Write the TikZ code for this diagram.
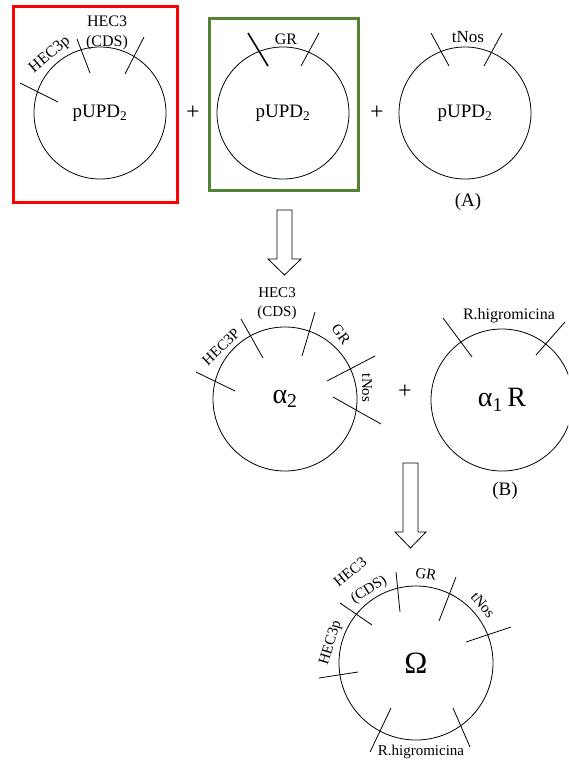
\documentclass[tikz,border=0pt]{standalone}
\usepackage{fontspec}
\setmainfont{Liberation Serif}
\begin{document}
\begin{tikzpicture}[x=1pt,y=-1pt,
  plasmid/.style={draw, circle, inner sep=0pt, line width=0.8pt},
  site/.style={line width=0.8pt},
  lbl/.style={inner sep=0pt, align=center, font=\fontsize{16}{20}\selectfont},
  lblm/.style={inner sep=0pt, align=center, font=\fontsize{15}{19}\selectfont},
  vecname/.style={inner sep=0pt, font=\fontsize{19}{22}\selectfont},
  greek/.style={inner sep=0pt, font=\fontsize{28}{30}\selectfont},
  plussign/.style={inner sep=0pt, font=\fontsize{24}{24}\selectfont},
  caption/.style={inner sep=0pt, font=\fontsize{19}{22}\selectfont},
  blockarrow/.style={draw, line width=0.8pt, fill=white},
  boxframe/.style={line width=3pt}
]
\clip (0,0) rectangle (568,760);
\definecolor{framegreen}{RGB}{84,130,53}

% ---- row 1: three pUPD2 vectors ----
\draw[boxframe, red] (13,7) rectangle (177,202);
\draw[boxframe, framegreen] (209,19) rectangle (358,190);

\node[plasmid, minimum size=132pt] (p1) at (100,113) {};
\node[vecname] at (p1) {pUPD\textsubscript{2}};
\draw[site] (20,83) -- (58,102);
\draw[site] (77,39) -- (90,73);
\draw[site] (144,37) -- (125,74);
\node[lbl, rotate=40] at (50,55) {HEC3p};
\node[lbl] at (107,33) {HEC3\\(CDS)};

\node[plussign] at (193,113) {+};

\node[plasmid, minimum size=132pt] (p2) at (283,113) {};
\node[vecname] at (p2) {pUPD\textsubscript{2}};
\draw[site, line width=1.6pt] (248,33) -- (268,66);
\draw[site] (319,33) -- (301,66);
\node[lbl] at (286,39) {GR};

\node[plussign] at (377,113) {+};

\node[plasmid, minimum size=132pt] (p3) at (465,113) {};
\node[vecname] at (p3) {pUPD\textsubscript{2}};
\draw[site] (431,33) -- (449,66);
\draw[site] (502,33) -- (484,66);
\node[lbl, font=\fontsize{17}{20}\selectfont] at (468,37) {tNos};
\node[caption] at (468,202) {(A)};

% ---- arrow to row 2 ----
\draw[blockarrow] (277,210) -- (292,210) -- (292,259) -- (301,259)
  -- (284.5,275) -- (268,259) -- (277,259) -- cycle;

% ---- row 2: alpha2 and alpha1 R ----
\node[plasmid, minimum size=144pt] (a2) at (285,399) {};
\node[greek] at (a2) {α\textsubscript{2}};
\draw[site] (196,372) -- (235,391);
\draw[site] (241,319) -- (263,358);
\draw[site] (315,312) -- (302,356);
\draw[site] (375,356) -- (327,381);
\draw[site] (333,397) -- (381,424);
\node[lblm, rotate=44] at (221,347) {HEC3P};
\node[lblm] at (277,304) {HEC3\\(CDS)};
\node[lblm, rotate=-54] at (341,334) {GR};
\node[lblm, rotate=-90] at (367,388) {tNos};

\node[plussign] at (405,392) {+};

\node[plasmid, minimum size=142pt] (a1) at (502,400) {};
\node[greek] at (a1) {α\textsubscript{1}\,R};
\draw[site] (443,318) -- (472,357);
\draw[site] (565,322) -- (536,355);
\node[lblm, font=\fontsize{16}{19}\selectfont] at (509,316) {R.higromicina};
\node[caption] at (505,491) {(B)};

% ---- arrow to row 3 ----
\draw[blockarrow] (403,463) -- (418,463) -- (418,532) -- (426,532)
  -- (410.5,548) -- (395,532) -- (403,532) -- cycle;

% ---- row 3: omega ----
\node[plasmid, minimum size=154pt] (om) at (416,663) {};
\node[greek, font=\fontsize{31}{32}\selectfont] at (om) {Ω};
\draw[site] (340,603) -- (372,625);
\draw[site] (396,572) -- (400,612);
\draw[site] (456,577) -- (439,621);
\draw[site] (511,627) -- (466,642);
\draw[site] (319,678) -- (358,672);
\draw[site] (391,708) -- (370,752);
\draw[site] (453,708) -- (470,747);
\node[lblm, rotate=39] at (350,572) {HEC3};
\node[lblm, rotate=32] at (369,590) {(CDS)};
\node[lblm, rotate=-10] at (426,574) {GR};
\node[lblm, rotate=-50] at (483,605) {tNos};
\node[lblm, rotate=73] at (331,643) {HEC3p};
\node[lblm] at (421,752) {R.higromicina};
\end{tikzpicture}
\end{document}
